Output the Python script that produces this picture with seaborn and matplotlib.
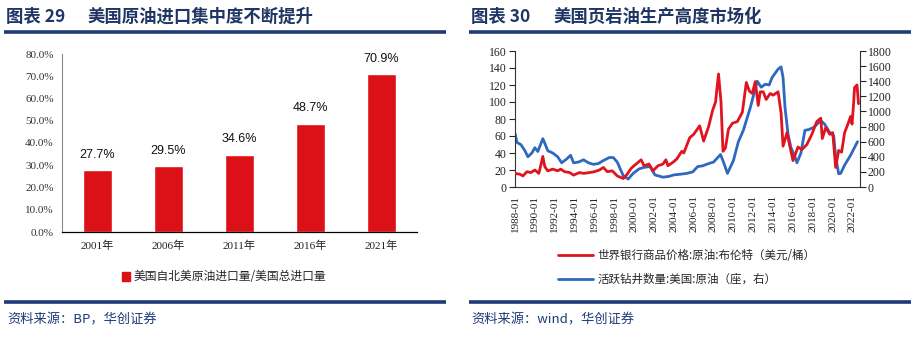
import matplotlib
matplotlib.use("Agg")
import matplotlib.pyplot as plt
import seaborn as sns
import pandas as pd
from matplotlib.patches import Patch
from matplotlib.lines import Line2D

# ---------------- data ----------------
bar_years = ["2001年", "2006年", "2011年", "2016年", "2021年"]
bar_values = [27.7, 29.5, 34.6, 48.7, 70.9]
bar_legend = "美国自北美原油进口量/美国总进口量"
y_ticks_left = [0, 10, 20, 30, 40, 50, 60, 70, 80]

oil_t = [1988.0, 1988.5, 1988.8, 1989.2, 1989.6, 1990.0, 1990.4, 1990.65, 1990.8, 1991.0,
         1991.3, 1991.8, 1992.3, 1992.6, 1993.0, 1993.5, 1993.9, 1994.5, 1994.9, 1995.5,
         1996.0, 1996.5, 1996.9, 1997.3, 1997.8, 1998.3, 1998.9, 1999.3, 1999.7, 2000.2,
         2000.7, 2001.0, 2001.5, 2001.9, 2002.4, 2002.9, 2003.2, 2003.4, 2003.9, 2004.3,
         2004.8, 2005.0, 2005.6, 2006.0, 2006.6, 2007.0, 2007.5, 2007.9, 2008.2, 2008.5,
         2008.75, 2008.95, 2009.2, 2009.5, 2009.9, 2010.4, 2010.9, 2011.3, 2011.6, 2011.9,
         2012.2, 2012.5, 2012.7, 2013.0, 2013.3, 2013.7, 2014.0, 2014.5, 2014.8, 2015.0,
         2015.4, 2015.7, 2016.0, 2016.5, 2016.9, 2017.4, 2017.9, 2018.4, 2018.8, 2018.95,
         2019.3, 2019.7, 2020.0, 2020.3, 2020.6, 2020.9, 2021.2, 2021.5, 2021.8, 2021.95,
         2022.1, 2022.2, 2022.45, 2022.6]
oil_v = [16, 15, 13, 18, 17, 20, 16, 28, 36, 24,
         19, 21, 19, 21, 18, 17, 14, 17, 16, 17,
         18, 20, 23, 18, 19, 13, 10, 15, 22, 27,
         32, 25, 27, 19, 25, 27, 32, 25, 29, 33,
         42, 40, 58, 62, 72, 54, 71, 90, 100, 133,
         100, 42, 46, 68, 75, 77, 88, 123, 113, 110,
         124, 96, 112, 112, 103, 110, 108, 112, 87, 48,
         64, 47, 31, 47, 44, 50, 62, 77, 81, 57,
         70, 62, 64, 23, 43, 41, 64, 73, 83, 74,
         97, 117, 120, 98]

rig_t = [1988.0, 1988.2, 1988.6, 1989.0, 1989.3, 1989.7, 1990.0, 1990.3, 1990.8, 1991.0,
         1991.3, 1991.8, 1992.3, 1992.7, 1993.2, 1993.6, 1993.9, 1994.4, 1994.9, 1995.4,
         1995.9, 1996.4, 1996.9, 1997.5, 1997.9, 1998.3, 1998.9, 1999.4, 1999.9, 2000.5,
         2001.0, 2001.6, 2002.1, 2002.9, 2003.5, 2004.0, 2004.7, 2005.3, 2005.9, 2006.4,
         2006.9, 2007.5, 2008.0, 2008.7, 2009.0, 2009.4, 2010.0, 2010.5, 2011.0, 2011.7,
         2012.4, 2012.8, 2013.2, 2013.6, 2013.9, 2014.5, 2014.8, 2015.0, 2015.2, 2015.5,
         2015.8, 2016.2, 2016.4, 2016.8, 2017.2, 2017.6, 2018.1, 2018.8, 2019.2, 2019.7,
         2020.1, 2020.3, 2020.6, 2020.8, 2021.2, 2021.8, 2022.5]
rig_v = [710, 590, 560, 480, 400, 450, 520, 470, 640, 580,
         480, 450, 400, 320, 370, 420, 320, 330, 360, 320,
         300, 310, 350, 390, 390, 330, 150, 105, 180, 240,
         260, 270, 160, 130, 140, 160, 170, 180, 200, 270,
         280, 310, 330, 430, 330, 180, 350, 600, 750, 1050,
         1400, 1320, 1360, 1350, 1450, 1560, 1590, 1450, 1050, 700,
         520, 400, 320, 450, 750, 760, 790, 880, 830, 720,
         680, 400, 175, 180, 290, 420, 600]

oil_label = "世界银行商品价格:原油:布伦特（美元/桶）"
rig_label = "活跃钻井数量:美国:原油（座，右）"
date_ticks = list(range(1988, 2023, 2))

# ---------------- style ----------------
sns.set_style("white")
plt.rcParams["font.family"] = ["Liberation Serif", "Noto Sans CJK SC", "DejaVu Sans"]

W, H = 916, 340
fig = plt.figure(figsize=(W / 100, H / 100), dpi=100)

RED = "#DC1118"
LRED = "#E0141E"
BLUE = "#2F69BF"
NAVY = "#1F3A78"
TITLE = "#1F3563"
CJK = ["Noto Sans CJK SC", "DejaVu Sans"]


def fx(px):
    return px / W


def fy(py):
    return 1 - py / H


def hline(x0, x1, y):
    fig.add_artist(Line2D([fx(x0), fx(x1)], [fy(y), fy(y)], color=NAVY, lw=2.6,
                          transform=fig.transFigure, solid_capstyle="butt"))


# titles, rules, sources
fig.text(fx(6), fy(17), "图表 29", family=CJK, fontsize=12.5, fontweight="bold", color=TITLE, va="center")
fig.text(fx(88), fy(17), "美国原油进口集中度不断提升", family=CJK, fontsize=12.5, fontweight="bold",
         color=TITLE, va="center")
fig.text(fx(471), fy(17), "图表 30", family=CJK, fontsize=12.5, fontweight="bold", color=TITLE, va="center")
fig.text(fx(553), fy(17), "美国页岩油生产高度市场化", family=CJK, fontsize=12.5, fontweight="bold",
         color=TITLE, va="center")
hline(4, 446, 32)
hline(469, 911, 32)
hline(4, 446, 302)
hline(469, 911, 302)
fig.text(fx(7), fy(320), "资料来源：BP，华创证券", family=CJK, fontsize=9.5, color=NAVY, va="center",
         style="italic")
fig.text(fx(471), fy(320), "资料来源：wind，华创证券", family=CJK, fontsize=9.5, color=NAVY, va="center",
         style="italic")

# ---------------- left: bar chart ----------------
ax1 = fig.add_axes([fx(62), fy(232), fx(416.7) - fx(62), (232 - 54) / H])
df_bar = pd.DataFrame({"year": bar_years, "value": bar_values})
sns.barplot(data=df_bar, x="year", y="value", color=RED, width=0.41, saturation=1, ax=ax1)
ax1.set_xlim(-0.5, 4.5)
ax1.set_ylim(0, 80)
ax1.set_yticks(y_ticks_left)
ax1.set_yticklabels([f"{v:.1f}%" for v in y_ticks_left], fontsize=8, color="#333333")
ax1.set_xlabel("")
ax1.set_ylabel("")
ax1.set_xticks(range(len(bar_years)))
ax1.set_xticklabels(bar_years, fontsize=8, color="#222222")
ax1.set_xticks([i - 0.5 for i in range(len(bar_years) + 1)], minor=True)
ax1.tick_params(axis="x", which="major", length=0, pad=6)
ax1.tick_params(axis="x", which="minor", length=4, width=0.8, color="#555555", direction="out")
ax1.tick_params(axis="y", which="major", length=4, width=0.8, color="#888888", direction="out", pad=2)
for s in ["top", "right"]:
    ax1.spines[s].set_visible(False)
ax1.spines["left"].set_color("#8a8a8a")
ax1.spines["left"].set_linewidth(0.8)
ax1.spines["bottom"].set_color("black")
ax1.spines["bottom"].set_linewidth(0.9)
for i, v in enumerate(bar_values):
    ax1.annotate(f"{v:.1f}%", (i, v), xytext=(0, 7), textcoords="offset points", ha="center",
                 va="bottom", fontsize=9, family=["Liberation Sans", "DejaVu Sans"], color="#111111")
ax1.legend(handles=[Patch(facecolor=RED, edgecolor=RED)], labels=[bar_legend],
           loc="center left", bbox_to_anchor=(fx(122), fy(277)), bbox_transform=fig.transFigure,
           frameon=False, prop={"family": CJK, "size": 8.5}, handlelength=0.7, handleheight=0.7,
           handletextpad=0.3, borderpad=0, borderaxespad=0)

# ---------------- right: line chart ----------------
ax2 = fig.add_axes([fx(515), fy(187), fx(859.5) - fx(515), (187 - 51) / H])
ax3 = ax2.twinx()
df_oil = pd.DataFrame({"t": oil_t, "v": oil_v})
df_rig = pd.DataFrame({"t": rig_t, "v": rig_v})
sns.lineplot(data=df_oil, x="t", y="v", color=LRED, lw=2.0, ax=ax2, zorder=3)
sns.lineplot(data=df_rig, x="t", y="v", color=BLUE, lw=2.0, ax=ax3, zorder=2)
ax2.set_zorder(ax3.get_zorder() + 1)
ax2.patch.set_visible(False)
ax2.set_xlim(1988.0, 2022.7)
ax2.set_ylim(0, 160)
ax3.set_ylim(0, 1800)
ax2.set_yticks(range(0, 161, 20))
ax3.set_yticks(range(0, 1801, 200))
ax2.set_xticks(date_ticks)
ax2.set_xticklabels([f"{y}-01" for y in date_ticks], rotation=90, fontsize=8, color="#222222")
ax2.tick_params(axis="y", labelsize=8.5, labelcolor="#222222", length=4, width=0.8, direction="out", pad=2)
ax3.tick_params(axis="y", labelsize=8.5, labelcolor="#222222", length=4, width=0.8, direction="out", pad=2)
ax2.tick_params(axis="x", length=3, width=0.8, direction="out", pad=3)
for a in (ax2, ax3):
    a.set_xlabel("")
    a.set_ylabel("")
    a.spines["top"].set_visible(False)
    for s in ["left", "right", "bottom"]:
        a.spines[s].set_color("#333333")
        a.spines[s].set_linewidth(0.8)
ax2.spines["right"].set_visible(False)
ax3.spines["left"].set_visible(False)
ax3.spines["bottom"].set_visible(False)

handles = [Line2D([], [], color=LRED, lw=2.0), Line2D([], [], color=BLUE, lw=2.0)]
ax2.legend(handles=handles, labels=[oil_label, rig_label], loc="upper left",
           bbox_to_anchor=(fx(558), fy(249)), bbox_transform=fig.transFigure, frameon=False,
           prop={"family": CJK, "size": 8.3}, handlelength=3.0, handletextpad=0.4,
           labelspacing=0.95, borderpad=0, borderaxespad=0)

fig.savefig("out.png", dpi=100)
